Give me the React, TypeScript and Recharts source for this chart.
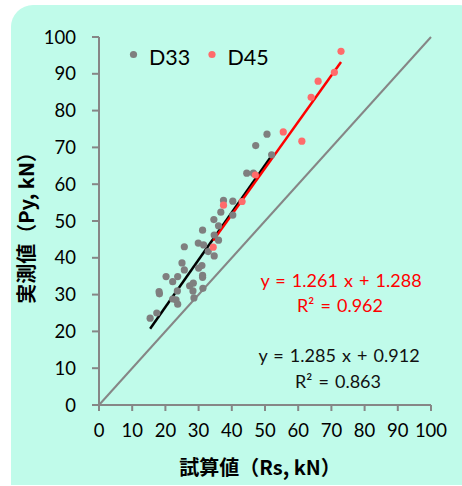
import {
  ScatterChart,
  Scatter,
  XAxis,
  YAxis,
  ReferenceLine,
  Customized,
} from "recharts";

// D33 measured vs calculated (x = Rs, y = Py)
const d33X = [
  15.4, 17.4, 18.1, 18.2, 20.2, 22.2, 23.7, 22.2, 23.2, 23.6, 23.7, 25.0, 25.7, 25.7,
  27.3, 28.4, 28.3, 28.6, 31.2, 31.2, 31.3, 30.0, 31.0, 29.9, 31.5, 31.2, 32.9, 34.7,
  34.7, 36.0, 36.0, 34.6, 36.7, 37.5, 40.3, 40.3, 44.5, 46.5, 47.2, 50.6, 52.0,
];
const d33Y = [
  23.6, 25.0, 30.8, 30.2, 34.9, 33.5, 34.9, 28.8, 28.6, 31.0, 27.4, 38.6, 36.7, 43.0,
  32.4, 33.1, 31.0, 29.1, 35.2, 34.7, 31.7, 37.2, 37.9, 44.0, 43.5, 47.5, 41.7, 40.5,
  46.2, 44.8, 48.7, 50.4, 52.4, 55.6, 55.4, 51.6, 63.0, 63.0, 70.5, 73.6, 68.0,
];

// D45
const d45X = [34.4, 37.5, 43.1, 47.1, 55.5, 61.1, 63.9, 66.0, 70.9, 72.9];
const d45Y = [42.9, 54.3, 55.3, 62.5, 74.2, 71.7, 83.6, 88.0, 90.4, 96.1];

const ticks = [0, 10, 20, 30, 40, 50, 60, 70, 80, 90, 100];

// trendline coefficients
const fit33 = { a: 1.285, b: 0.912 };
const fit45 = { a: 1.261, b: 1.288 };

const d33 = d33X.map((x, i) => ({ x, y: d33Y[i] }));
const d45 = d45X.map((x, i) => ({ x, y: d45Y[i] }));

const seg = (xs: number[], f: { a: number; b: number }) => {
  const lo = Math.min(...xs);
  const hi = Math.max(...xs);
  return [
    { x: lo, y: f.a * lo + f.b },
    { x: hi, y: f.a * hi + f.b },
  ];
};

const FONT = "Lato, 'Noto Sans', sans-serif";
const JP = "'Noto Sans CJK JP', sans-serif";

function Overlay() {
  const eq = { fontFamily: FONT, fontSize: 18, wordSpacing: 1.5, textAnchor: "middle" as const };
  return (
    <g>
      {/* legend */}
      <circle cx={133.5} cy={54.5} r={3.6} fill="#7f7f7f" />
      <text x={149} y={64.5} fontFamily={FONT} fontSize={21.5} fill="#000">
        D33
      </text>
      <circle cx={212} cy={54.5} r={3.6} fill="#ff6b6b" />
      <text x={227.5} y={64.5} fontFamily={FONT} fontSize={21.5} fill="#000">
        D45
      </text>

      {/* equations */}
      <text x={341} y={287} {...eq} fill="#ff0000">
        y = 1.261 x + 1.288
      </text>
      <text x={340} y={311.5} {...eq} fill="#ff0000">
        R² = 0.962
      </text>
      <text x={339} y={362} {...eq} fill="#111">
        y = 1.285 x + 0.912
      </text>
      <text x={338} y={388} {...eq} fill="#111">
        R² = 0.863
      </text>

      {/* axis titles */}
      <text x={260} y={475} textAnchor="middle" fontFamily={JP} fontWeight={700} fontSize={20} fill="#000">
        試算値（Rs, kN）
      </text>
      <text
        x={0}
        y={0}
        transform="translate(34 223) rotate(-90)"
        textAnchor="middle"
        fontFamily={JP}
        fontWeight={700}
        fontSize={20}
        fill="#000"
      >
        実測値（Py, kN）
      </text>
    </g>
  );
}

export default function App() {
  return (
    <div
      style={{
        position: "absolute",
        left: 0,
        top: 0,
        width: 462,
        height: 486,
        background: "#fff",
        overflow: "hidden",
      }}
    >
      {/* mint panel */}
      <div
        style={{
          position: "absolute",
          left: 11,
          top: 5,
          width: 470,
          height: 480,
          background: "#c0fbea",
          borderRadius: "22px 22px 0 0",
        }}
      />
      <div style={{ position: "absolute", left: 0, top: 0 }}>
        <ScatterChart
          width={462}
          height={486}
          margin={{ top: 37, right: 31, bottom: 51, left: 40 }}
        >
          <XAxis
            type="number"
            dataKey="x"
            domain={[0, 100]}
            ticks={ticks}
            height={30}
            stroke="#868686"
            strokeWidth={2}
            tickSize={6}
            tickMargin={13}
            tick={{ fontSize: 18.5, fill: "#000", fontFamily: FONT }}
            interval={0}
          />
          <YAxis
            type="number"
            dataKey="y"
            domain={[0, 100]}
            ticks={ticks}
            width={59}
            stroke="#868686"
            strokeWidth={2}
            tickSize={7}
            tickMargin={16}
            tick={{ fontSize: 18.5, fill: "#000", fontFamily: FONT }}
            interval={0}
          />
          <ReferenceLine
            segment={[
              { x: 0, y: 0 },
              { x: 100, y: 100 },
            ]}
            stroke="#868686"
            strokeWidth={2}
          />
          <Scatter
            name="D33"
            data={d33}
            fill="#7f7f7f"
            shape={(p: any) => <circle cx={p.cx} cy={p.cy} r={3.6} fill="#7f7f7f" />}
            isAnimationActive={false}
          />
          <Scatter
            name="D45"
            data={d45}
            fill="#ff6b6b"
            shape={(p: any) => <circle cx={p.cx} cy={p.cy} r={3.6} fill="#ff6b6b" />}
            isAnimationActive={false}
          />
          <ReferenceLine segment={seg(d33X, fit33)} stroke="#000" strokeWidth={2.5} />
          <ReferenceLine segment={seg(d45X, fit45)} stroke="#ff0000" strokeWidth={2.5} />
          <Customized component={Overlay} />
        </ScatterChart>
      </div>
    </div>
  );
}
